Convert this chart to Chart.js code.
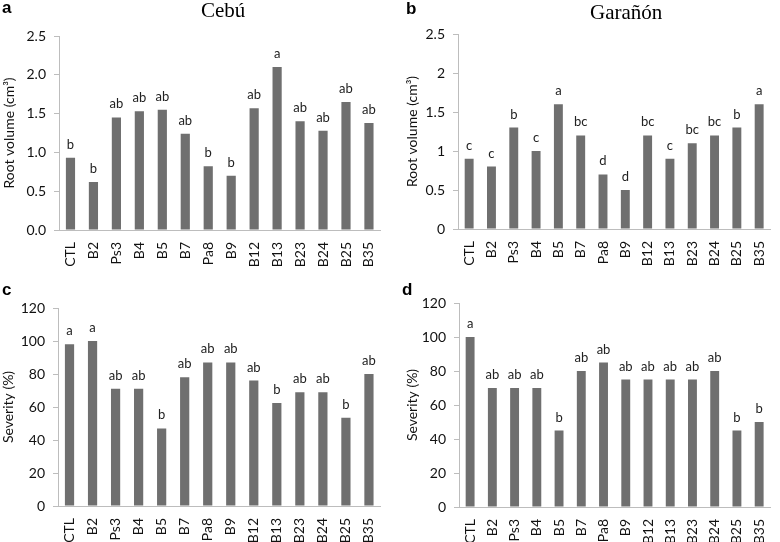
<!DOCTYPE html>
<html>
<head>
<meta charset="utf-8">
<script src="https://cdn.jsdelivr.net/npm/chart.js@4.4.0/dist/chart.umd.min.js"></script>
<style>
    body { margin: 0; background: #ffffff; }
    #wrap { position: relative; width: 780px; height: 542px; overflow: hidden; }
    .panel { position: absolute; }
    .letter { position: absolute; font: bold 17px 'Liberation Sans', Arial, sans-serif; color: #000; }
    .title { position: absolute; font: 21px 'Liberation Serif', 'Times New Roman', serif; color: #000; }
</style>
</head>
<body>
<div id="wrap">
    <div class="panel" style="left:0;top:0;width:390px;height:272px"><canvas id="chartA"></canvas></div>
    <div class="panel" style="left:390px;top:0;width:390px;height:272px"><canvas id="chartB"></canvas></div>
    <div class="panel" style="left:0;top:272px;width:390px;height:270px"><canvas id="chartC"></canvas></div>
    <div class="panel" style="left:390px;top:272px;width:390px;height:270px"><canvas id="chartD"></canvas></div>
    <div class="letter" style="left:2px;top:-2px">a</div>
    <div class="letter" style="left:406px;top:-1px">b</div>
    <div class="letter" style="left:2px;top:280px">c</div>
    <div class="letter" style="left:402px;top:280px">d</div>
    <div class="title" style="left:201px;top:-2px">Cebú</div>
    <div class="title" style="left:590px;top:0px">Garañón</div>
</div>
<script>
// カテゴリ（処理区）
const treatments = ['CTL', 'B2', 'Ps3', 'B4', 'B5', 'B7', 'Pa8', 'B9', 'B12', 'B13', 'B23', 'B24', 'B25', 'B35'];

// a: Cebú 根の体積
const rootCebu = [0.93, 0.62, 1.45, 1.53, 1.55, 1.24, 0.82, 0.70, 1.57, 2.10, 1.40, 1.28, 1.65, 1.38];
const rootCebuLetters = ['b', 'b', 'ab', 'ab', 'ab', 'ab', 'b', 'b', 'ab', 'a', 'ab', 'ab', 'ab', 'ab'];

// b: Garañón 根の体積
const rootGaranon = [0.9, 0.8, 1.3, 1.0, 1.6, 1.2, 0.7, 0.5, 1.2, 0.9, 1.1, 1.2, 1.3, 1.6];
const rootGaranonLetters = ['c', 'c', 'b', 'c', 'a', 'bc', 'd', 'd', 'bc', 'c', 'bc', 'bc', 'b', 'a'];

// c: Cebú 重症度
const sevCebu = [98, 100, 71, 71, 47, 78, 87, 87, 76, 62.5, 69, 69, 53.5, 80];
const sevCebuLetters = ['a', 'a', 'ab', 'ab', 'b', 'ab', 'ab', 'ab', 'ab', 'b', 'ab', 'ab', 'b', 'ab'];

// d: Garañón 重症度
const sevGaranon = [100, 70, 70, 70, 45, 80, 85, 75, 75, 75, 75, 80, 45, 50];
const sevGaranonLetters = ['a', 'ab', 'ab', 'ab', 'b', 'ab', 'ab', 'ab', 'ab', 'ab', 'ab', 'ab', 'b', 'b'];

// 軸の目盛りラベル
const rootTicksCebu = ['0.0', '0.5', '1.0', '1.5', '2.0', '2.5'];
const rootTicksGaranon = ['0', '0.5', '1', '1.5', '2', '2.5'];
const sevTicks = ['0', '20', '40', '60', '80', '100', '120'];

const BAR_COLOR = '#6f6f6f';
const AXIS_COLOR = '#bdbdbd';
const FONT = "Lato, 'Open Sans', sans-serif";

// 棒の上に有意差の文字を描く
const letterPlugin = {
    id: 'letters',
    afterDatasetsDraw(chart, args, opts) {
        const ctx = chart.ctx;
        const meta = chart.getDatasetMeta(0);
        ctx.save();
        ctx.fillStyle = '#222';
        ctx.font = '13px ' + FONT;
        ctx.textAlign = 'center';
        ctx.textBaseline = 'alphabetic';
        meta.data.forEach((bar, i) => {
            ctx.fillText(opts.labels[i], bar.x, bar.y - 9);
        });
        ctx.restore();
    }
};

function makeChart(id, values, letters, tickLabels, step, max, yTitle, box) {
    new Chart(document.getElementById(id), {
        type: 'bar',
        data: {
            labels: treatments,
            datasets: [{
                data: values,
                backgroundColor: BAR_COLOR,
                barPercentage: 0.4,
                categoryPercentage: 1.0
            }]
        },
        options: {
            responsive: true,
            maintainAspectRatio: false,
            animation: false,
            layout: { padding: { top: box.top, right: box.right, bottom: 0, left: 0 } },
            plugins: {
                legend: { display: false },
                tooltip: { enabled: false },
                letters: { labels: letters }
            },
            scales: {
                x: {
                    grid: { display: false },
                    border: { display: true, color: AXIS_COLOR, width: 1 },
                    ticks: {
                        color: '#111',
                        font: { family: FONT, size: 14 },
                        minRotation: 90,
                        maxRotation: 90,
                        autoSkip: false,
                        padding: 4
                    },
                    afterFit: (scale) => { scale.height = box.xh; }
                },
                y: {
                    min: 0,
                    max: max,
                    ticks: {
                        stepSize: step,
                        color: '#111',
                        font: { family: FONT, size: 14 },
                        padding: 8,
                        callback: (v, i) => tickLabels[i]
                    },
                    grid: { drawOnChartArea: false, color: AXIS_COLOR, tickLength: 5 },
                    border: { display: true, color: AXIS_COLOR, width: 1 },
                    title: {
                        display: true,
                        text: yTitle,
                        color: '#111',
                        font: { family: FONT, size: 14 },
                        padding: { top: box.tp, bottom: 0 }
                    },
                    afterFit: (scale) => { scale.width = box.yw; }
                }
            }
        },
        plugins: [letterPlugin]
    });
}

makeChart('chartA', rootCebu, rootCebuLetters, rootTicksCebu, 0.5, 2.5, 'Root volume (cm³)',
    { top: 36, right: 7, xh: 42, yw: 59, tp: 1 });
makeChart('chartB', rootGaranon, rootGaranonLetters, rootTicksGaranon, 0.5, 2.5, 'Root volume (cm³)',
    { top: 34, right: 1, xh: 43, yw: 68, tp: 14 });
makeChart('chartC', sevCebu, sevCebuLetters, sevTicks, 20, 120, 'Severity (%)',
    { top: 36, right: 7, xh: 36, yw: 58, tp: 0 });
makeChart('chartD', sevGaranon, sevGaranonLetters, sevTicks, 20, 120, 'Severity (%)',
    { top: 31, right: 1, xh: 35, yw: 69, tp: 14 });
</script>
</body>
</html>
